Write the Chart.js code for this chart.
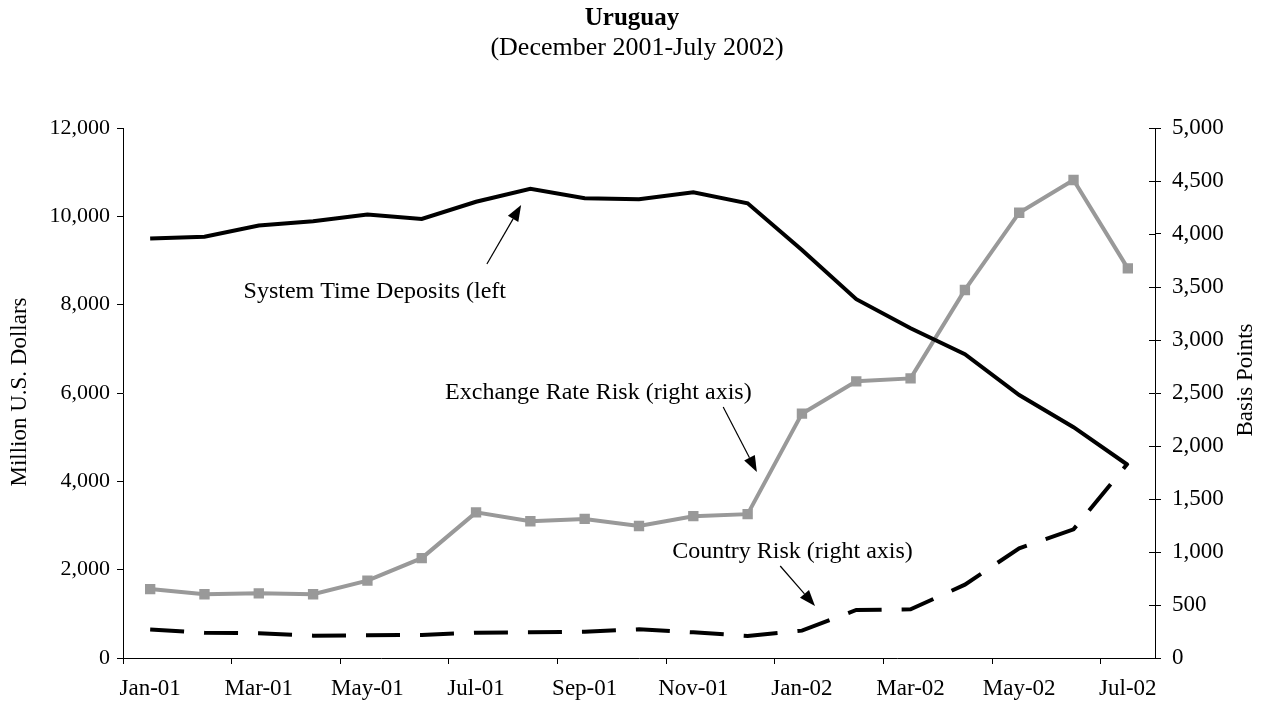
<!DOCTYPE html>
<html>
<head>
<meta charset="utf-8">
<script src="https://cdn.jsdelivr.net/npm/chart.js@4"></script>
<style>
  html, body { margin: 0; padding: 0; background: #fff; }
  #wrap { width: 1263px; height: 708px; position: relative; }
</style>
</head>
<body>
<div id="wrap"><canvas id="uruguayChart"></canvas></div>
<script>
// monthly data, Jan-01 .. Jul-02
const months = ['Jan-01', 'Feb-01', 'Mar-01', 'Apr-01', 'May-01', 'Jun-01', 'Jul-01', 'Aug-01', 'Sep-01', 'Oct-01',
  'Nov-01', 'Dec-01', 'Jan-02', 'Feb-02', 'Mar-02', 'Apr-02', 'May-02', 'Jun-02', 'Jul-02'];
// million US$ (left axis)
const timeDeposits = [9500, 9540, 9790, 9890, 10040, 9940, 10330, 10625, 10410, 10385,
  10545, 10295, 9240, 8125, 7465, 6880, 5955, 5225, 4370];
// basis points (right axis)
const exchangeRisk = [650, 601, 610, 601, 730, 942, 1374, 1290, 1312, 1245,
  1338, 1357, 2305, 2610, 2638, 3472, 4201, 4509, 3676];
const countryRisk = [270, 238, 233, 211, 215, 217, 239, 242, 248, 271,
  242, 208, 258, 453, 459, 692, 1035, 1214, 1837];

const leftMax = 12000, leftStep = 2000;
const rightMax = 5000, rightStep = 500;

// callouts: text anchor + arrow (x in category index, y in axis units)
const callouts = [
  { text: 'System Time Deposits (left', axis: 'y', tx: 1.72, ty: 8300, ax: [6.2, 8920], tip: [6.83, 10256] },
  { text: 'Exchange Rate Risk (right axis)', axis: 'y1', tx: 5.43, ty: 2500, ax: [10.55, 2368], tip: [11.17, 1755] },
  { text: 'Country Risk (right axis)', axis: 'y1', tx: 9.61, ty: 1000, ax: [11.6, 868], tip: [12.24, 491] }
];

const serif = '"Liberation Serif", "Times New Roman", serif';
const fmt = v => Number(v).toLocaleString('en-US');

const extrasPlugin = {
  id: 'extras',
  afterDraw(chart) {
    const c = chart.ctx;
    const area = chart.chartArea;
    const xs = chart.scales.x;
    c.save();
    c.fillStyle = '#000';
    c.strokeStyle = '#000';

    // titles
    c.textAlign = 'center';
    c.textBaseline = 'middle';
    c.font = 'bold 25px ' + serif;
    c.fillText('Uruguay', 632, 19);
    c.font = '26px ' + serif;
    c.fillText('(December 2001-July 2002)', 637, 48);

    // axis titles, both read bottom to top
    c.font = '23px ' + serif;
    [['Million U.S. Dollars', 20, 392], ['Basis Points', 1246, 380]].forEach(([t, x, y]) => {
      c.save();
      c.translate(x, y);
      c.rotate(-Math.PI / 2);
      c.fillText(t, 0, 0);
      c.restore();
    });

    // right axis ticks cross the axis line
    const ys1 = chart.scales.y1;
    c.lineWidth = 1;
    for (let v = 0; v <= rightMax; v += rightStep) {
      const py = Math.round(ys1.getPixelForValue(v)) + 0.5;
      c.beginPath();
      c.moveTo(area.right - 6, py);
      c.lineTo(area.right, py);
      c.stroke();
    }

    // callouts
    c.font = '24px ' + serif;
    c.textAlign = 'left';
    callouts.forEach(a => {
      const ys = chart.scales[a.axis];
      c.fillText(a.text, xs.getPixelForValue(a.tx), ys.getPixelForValue(a.ty));
      const x0 = xs.getPixelForValue(a.ax[0]), y0 = ys.getPixelForValue(a.ax[1]);
      const x1 = xs.getPixelForValue(a.tip[0]), y1 = ys.getPixelForValue(a.tip[1]);
      const ang = Math.atan2(y1 - y0, x1 - x0);
      const head = 16, half = 6;
      const bx = x1 - head * Math.cos(ang), by = y1 - head * Math.sin(ang);
      c.lineWidth = 1.2;
      c.beginPath();
      c.moveTo(x0, y0);
      c.lineTo(bx, by);
      c.stroke();
      c.beginPath();
      c.moveTo(x1, y1);
      c.lineTo(bx + half * Math.sin(ang), by - half * Math.cos(ang));
      c.lineTo(bx - half * Math.sin(ang), by + half * Math.cos(ang));
      c.closePath();
      c.fill();
    });
    c.restore();
  }
};

new Chart(document.getElementById('uruguayChart'), {
  type: 'line',
  data: {
    labels: months,
    datasets: [
      { label: 'System Time Deposits', data: timeDeposits, yAxisID: 'y', borderColor: '#000', borderWidth: 4,
        pointRadius: 0, tension: 0 },
      { label: 'Country Risk', data: countryRisk, yAxisID: 'y1', borderColor: '#000', borderWidth: 4,
        borderDash: [34, 20], pointRadius: 0, tension: 0 },
      { label: 'Exchange Rate Risk', data: exchangeRisk, yAxisID: 'y1', borderColor: '#999999', borderWidth: 4,
        pointStyle: 'rect', pointRadius: 4.5, pointBackgroundColor: '#999999', pointBorderColor: '#999999', tension: 0 }
    ]
  },
  options: {
    responsive: true,
    maintainAspectRatio: false,
    animation: false,
    layout: { padding: { top: 128, left: 0, right: 0, bottom: 0 } },
    plugins: { legend: { display: false }, tooltip: { enabled: false }, title: { display: false } },
    scales: {
      x: {
        offset: true,
        grid: {
          offset: true, drawOnChartArea: false, drawTicks: true, tickLength: 6,
          color: ctx => (ctx.index % 2 === 0 ? '#000' : 'rgba(0,0,0,0)')
        },
        border: { display: true, color: '#000', width: 1 },
        ticks: {
          autoSkip: false, maxRotation: 0, padding: 11, color: '#000',
          font: { family: serif, size: 23 },
          callback: (v, i) => (i % 2 === 0 ? months[i] : '')
        },
        afterFit: s => { s.height = 50; }
      },
      y: {
        position: 'left', min: 0, max: leftMax,
        grid: { drawOnChartArea: false, drawTicks: true, tickLength: 6, color: '#000' },
        border: { display: true, color: '#000', width: 1 },
        ticks: { stepSize: leftStep, padding: 7, color: '#000', font: { family: serif, size: 22 }, callback: fmt },
        afterFit: s => { s.width = 123; }
      },
      y1: {
        position: 'right', min: 0, max: rightMax,
        grid: { drawOnChartArea: false, drawTicks: true, tickLength: 6, color: '#000' },
        border: { display: true, color: '#000', width: 1 },
        ticks: { stepSize: rightStep, padding: 11, color: '#000', font: { family: serif, size: 23 }, callback: fmt },
        afterFit: s => { s.width = 108; }
      }
    }
  },
  plugins: [extrasPlugin]
});
</script>
</body>
</html>
